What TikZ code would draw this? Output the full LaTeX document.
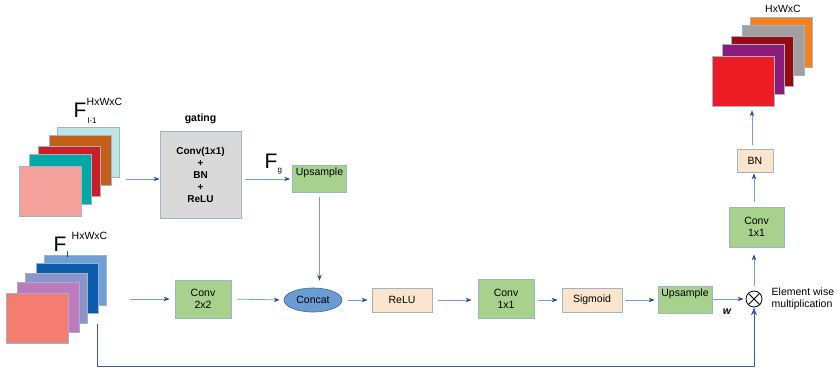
\documentclass[tikz,border=0pt]{standalone}
\usepackage{fontspec}
\setsansfont{Liberation Sans}
\usepackage{tikz}
\usetikzlibrary{arrows.meta, shapes, calc}

\definecolor{lineblue}{RGB}{130,155,205}
\definecolor{headblue}{RGB}{40,75,160}
\definecolor{skipblue}{RGB}{60,90,170}
\definecolor{boxborder}{RGB}{160,180,200}
\definecolor{boxgreen}{RGB}{169,209,142}
\definecolor{boxpeach}{RGB}{253,228,204}
\definecolor{boxgray}{RGB}{217,217,217}
\definecolor{concatblue}{RGB}{108,155,210}
\definecolor{concatborder}{RGB}{60,105,170}

\begin{document}
\begin{tikzpicture}[x=1pt, y=-1pt]

    % Sans-serif text
    \sffamily
    \fontsize{10.5}{12}\selectfont

    % Frame
    \useasboundingbox (0,0) rectangle (837,370);
    \fill[white] (0,0) rectangle (837,370);

    % Feature map layers
    \tikzset{layer/.style={draw=boxborder, line width=0.5pt, inner sep=0pt, minimum width=62, minimum height=50}}

    % Operation boxes
    \tikzset{opbox/.style={draw=boxborder, line width=0.8pt, inner sep=2pt, align=center}}
    \tikzset{greenbox/.style={opbox, fill=boxgreen}}
    \tikzset{peachbox/.style={opbox, fill=boxpeach, minimum width=60, minimum height=24}}
    \tikzset{upsbox/.style={greenbox, inner sep=3pt, text depth=14pt, minimum width=54}}

    % Connectors
    \tikzset{arr/.style={draw=lineblue, line width=0.8pt, -{Stealth[length=6pt, width=4.5pt, color=headblue]}}}
    \tikzset{skiparr/.style={draw=skipblue, line width=1pt, -{Stealth[length=8pt, width=6pt, color=skipblue]}}}

    % Input stack F_{l-1}
    \node (g5) [layer, fill={rgb,255:red,190;green,228;blue,228}] at (88,152) {};
    	\node (g4) [layer, fill={rgb,255:red,195;green,95;blue,25}] at (80,160) {};
    		\node (g3) [layer, fill={rgb,255:red,205;green,30;blue,40}] at (69,171) {};
    			\node (g2) [layer, fill={rgb,255:red,0;green,168;blue,168}] at (60.5,179.5) {};
    				\node (g1) [layer, fill={rgb,255:red,246;green,162;blue,156}] at (50,191) {};
    \node (Fg1) at (80,110) {\fontsize{21}{21}\selectfont F};
    \node (Fg1sub) [font=\fontsize{8}{8}\selectfont, anchor=west] at (84,121) {l-1};
    \node (Fg1sup) [anchor=west] at (83,102) {HxWxC};

    % Input stack F_l
    \node (x5) [layer, fill={rgb,255:red,110;green,160;blue,214}] at (75.5,280) {};
    	\node (x4) [layer, fill={rgb,255:red,10;green,92;blue,173}] at (67.5,288) {};
    		\node (x3) [layer, fill={rgb,255:red,140;green,149;blue,201}] at (56.5,298.5) {};
    			\node (x2) [layer, fill={rgb,255:red,190;green,122;blue,188}] at (48,307.5) {};
    				\node (x1) [layer, fill={rgb,255:red,244;green,124;blue,112}] at (37,318) {};
    \node (Fx) at (60,244) {\fontsize{21}{21}\selectfont F};
    \node (Fxsub) [font=\fontsize{8}{8}\selectfont, anchor=west] at (63,255) {l};
    \node (Fxsup) [anchor=west] at (68,236) {HxWxC};

    % Output stack
    \node (y5) [layer, fill={rgb,255:red,245;green,130;blue,31}] at (781.5,42) {};
    	\node (y4) [layer, fill={rgb,255:red,160;green,160;blue,160}] at (773,50.5) {};
    		\node (y3) [layer, fill={rgb,255:red,153;green,10;blue,12}] at (762,61.5) {};
    			\node (y2) [layer, fill={rgb,255:red,140;green,26;blue,122}] at (753,69.5) {};
    				\node (y1) [layer, fill={rgb,255:red,237;green,28;blue,36}] at (743,81) {};
    \node (ysup) at (783,9) {HxWxC};

    % Gating branch
    \node (gating) [opbox, fill=boxgray, font=\bfseries\fontsize{10}{12}\selectfont, minimum width=81, minimum height=87] at (200.5,174.5) {Conv(1x1)\\+\\BN\\+\\ReLU};
    \node (gatingl) [font=\bfseries] at (200.5,119) {gating};
    \node (ups1) [upsbox] at (319.5,179) {Upsample};
    \node (Fgate) at (271,161) {\fontsize{21}{21}\selectfont F};
    \node (Fgatesub) [font=\fontsize{8}{8}\selectfont, anchor=west] at (274,171) {g};

    % Main branch
    \node (conv2) [greenbox, minimum width=56, minimum height=38] at (203,299) {Conv\\2x2};
    \node (concat) [draw=concatborder, line width=0.6pt, fill=concatblue, ellipse, minimum width=58, minimum height=24, inner sep=0pt] at (313,300) {Concat};
    \node (relu) [peachbox] at (402,300) {ReLU};
    \node (conv1) [greenbox, minimum width=56, minimum height=39] at (506,298.5) {Conv\\1x1};
    \node (sigm) [peachbox] at (592,300) {Sigmoid};
    \node (ups2) [upsbox] at (685,300) {Upsample};
    \node (wlab) [font=\bfseries\itshape] at (727,312) {w};
    \node (mult) [draw=black, circle, line width=0.8pt, minimum size=16, inner sep=0pt] at (754,299) {};
    \draw[line width=0.8pt] (mult.north west) -- (mult.south east) (mult.north east) -- (mult.south west);
    \node (multl) [anchor=west, align=left] at (768,299) {Element wise\\multiplication};

    % Output branch
    \node (convo) [greenbox, minimum width=55, minimum height=40] at (756.5,227) {Conv\\1x1};
    \node (bn) [opbox, fill=boxpeach, minimum width=36, minimum height=23] at (755,160.5) {BN};

    % Free ends
    \coordinate (g1out) at (126,179);
    \coordinate (x1out) at (130,299);
    \coordinate (skipa) at (97,324);
    \coordinate (skipb) at (97,366);

    % Connectors
    \path[arr] (g1out) -- (g1out -| gating.west);
    \path[arr, shorten <=4pt, shorten >=2pt] (gating.east |- ups1.west) -- (ups1.west);
    \path[arr, shorten <=4pt, shorten >=7pt] (ups1.south) -- (ups1.south |- concat.north);
    \path[arr, shorten >=5pt] (x1out) -- (conv2.west);
    \path[arr, shorten <=6pt, shorten >=4pt] (conv2.east) -- (concat.west);
    \path[arr, shorten <=6pt, shorten >=4pt] (concat.east) -- (relu.west);
    \path[arr, shorten <=6pt, shorten >=6pt] (relu.east) -- (conv1.west |- relu.east);
    \path[arr, shorten <=4pt, shorten >=4pt] (conv1.east |- sigm.west) -- (sigm.west);
    \path[arr, shorten <=3pt, shorten >=3pt] (sigm.east) -- (ups2.west |- sigm.east);
    \path[arr, shorten <=1pt, shorten >=2pt] (ups2.east |- mult.west) -- (mult.west);
    \path[arr, shorten <=5pt, shorten >=7pt] (mult.north) -- (mult.north |- convo.south);
    \path[arr, shorten <=5pt, shorten >=1pt] (mult.north |- convo.north) -- (mult.north |- bn.south);
    \path[arr, shorten <=4pt, shorten >=4pt] (bn.north -| 752,0) -- (752,0 |- y1.south);
    \path[skiparr] (skipa) -- (skipb) -| (mult.south);

\end{tikzpicture}
\end{document}
